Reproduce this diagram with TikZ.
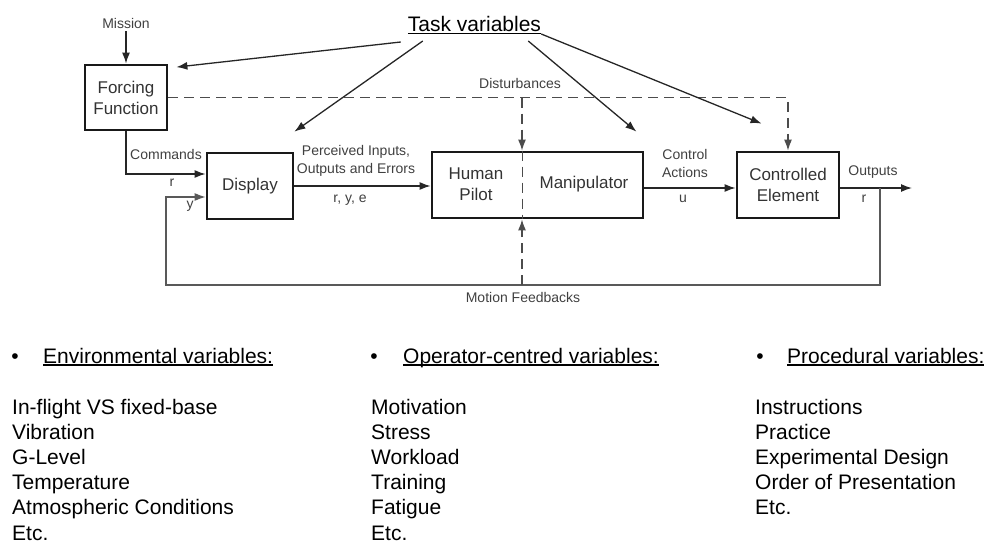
\documentclass[tikz,border=0pt]{standalone}
\usepackage{fontspec}
\setmainfont{Liberation Sans}
\usetikzlibrary{arrows.meta,calc}

\newcommand{\undl}[1]{\setbox0\hbox{#1}\rlap{\rule[-2.5pt]{\wd0}{1.2pt}}\box0}

\begin{document}
\begin{tikzpicture}[x=1pt,y=-1pt,
  boxed/.style={draw=black!90,line width=2.8pt,align=center,text=black!80,font=\fontsize{17}{21}\selectfont},
  boxtxt/.style={align=center,text=black!80,font=\fontsize{17}{21}\selectfont,inner sep=0pt},
  lbl/.style={text=black!75,font=\fontsize{14}{18}\selectfont,inner sep=0pt,align=center},
  arr/.style={-{Latex[length=11pt,width=8pt]}},
  wire/.style={draw=black!85,line width=1.3pt},
  dsh/.style={draw=black!70,line width=1.3pt,dash pattern=on 10pt off 6pt},
  fbline/.style={draw=black!65,line width=1.2pt},
  big/.style={font=\fontsize{21}{25.2}\selectfont,inner sep=0pt}]

\useasboundingbox (0,0) rectangle (993,543);

% blocks
\node[boxed,minimum width=82pt,minimum height=65pt] (forcing) at (126,97.5) {Forcing\\Function};
\node[boxed,minimum width=86pt,minimum height=66pt] (display) at (250,186) {Display};
\node[boxed,minimum width=211pt,minimum height=66pt] (pilot) at (537.5,185) {};
\node[boxed,minimum width=102pt,minimum height=66pt] (element) at (788,185) {Controlled\\Element};
\node[boxtxt] (human) at (476,184) {Human\\Pilot};
\node[boxtxt] (manip) at (584,184) {Manipulator};

\node[big,anchor=base] (task) at (474.5,32) {\undl{Task variables}};

% labels
\node[lbl] (mission) at (126,23) {Mission};
\node[lbl] (cmd) at (166,154) {Commands};
\node[lbl] (rin) at (172,183) {r};
\node[lbl] (yin) at (190,206) {y};
\node[lbl] (perc) at (356,161) {Perceived Inputs,\\Outputs and Errors};
\node[lbl] (rye) at (350,200) {r, y, e};
\node[lbl] (ctrl) at (685,163) {Control\\Actions};
\node[lbl] (u) at (683,199) {u};
\node[lbl] (outl) at (873,172) {Outputs};
\node[lbl] (rout) at (864,199) {r};
\node[lbl] (dist) at (520,83) {Disturbances};
\node[lbl] (motion) at (523,297) {Motion Feedbacks};

\coordinate (out) at (912,188);
\coordinate (fbj) at (880,188);
\coordinate (fbl) at (166,285);
\coordinate (dsplit) at (522,97.5);

% signal flow
\draw[wire,arr,shorten <=3pt] (mission) -- (forcing);
\draw[wire,arr] (forcing.south) |- ([yshift=12pt]display.west);
\draw[wire,arr] (display.east) -- (display.east -| pilot.west);
\draw[wire,arr] (pilot.east |- out) -- (element.west |- out);
\draw[wire,arr] (element.east |- out) -- (out);
\draw[fbline,arr] (fbj) |- (fbl) |- ([yshift=-11pt]display.west);

% disturbances and motion
\draw[dsh,arr] (forcing.east) -| (element.north);
\draw[dsh,arr] (dsplit) -- (dsplit |- pilot.north);
\draw[dsh,line width=1pt] (dsplit |- pilot.north) -- (dsplit |- pilot.south);
\draw[dsh,arr] (dsplit |- fbl) -- (dsplit |- pilot.south);

% task variables
\draw[wire,arr] ($(task.base west)+(-7,10)$) -- ($(forcing.north east)+(8,3.5)$);
\draw[wire,arr] ($(task.base west)+(15,9)$) -- ($(display.north east)+(0,-20)$);
\draw[wire,arr] ($(task.base east)+(-13,9)$) -- ($(pilot.north east)+(-8,-19)$);
\draw[wire,arr] ($(task.base east)+(0,2)$) -- ($(element.north west)+(26,-27)$);

% variable lists
\node[big,anchor=base] (envb) at (15,363) {\textbullet};
\node[big,anchor=base west] (envh) at (43,363) {\undl{Environmental variables:}};
\foreach \t [count=\i] in {In-flight VS fixed-base,Vibration,G-Level,Temperature,Atmospheric Conditions,Etc.}
  \node[big,anchor=base west] (env\i) at (12,{414+25.2*(\i-1)}) {\t};

\node[big,anchor=base] (opb) at (374,363) {\textbullet};
\node[big,anchor=base west] (oph) at (403,363) {\undl{Operator-centred variables:}};
\foreach \t [count=\i] in {Motivation,Stress,Workload,Training,Fatigue,Etc.}
  \node[big,anchor=base west] (op\i) at (371,{414+25.2*(\i-1)}) {\t};

\node[big,anchor=base] (prb) at (760,363) {\textbullet};
\node[big,anchor=base west] (prh) at (787,363) {\undl{Procedural variables:}};
\foreach \t [count=\i] in {Instructions,Practice,Experimental Design,Order of Presentation,Etc.}
  \node[big,anchor=base west] (pr\i) at (755,{414+25.2*(\i-1)}) {\t};
\end{tikzpicture}
\end{document}
